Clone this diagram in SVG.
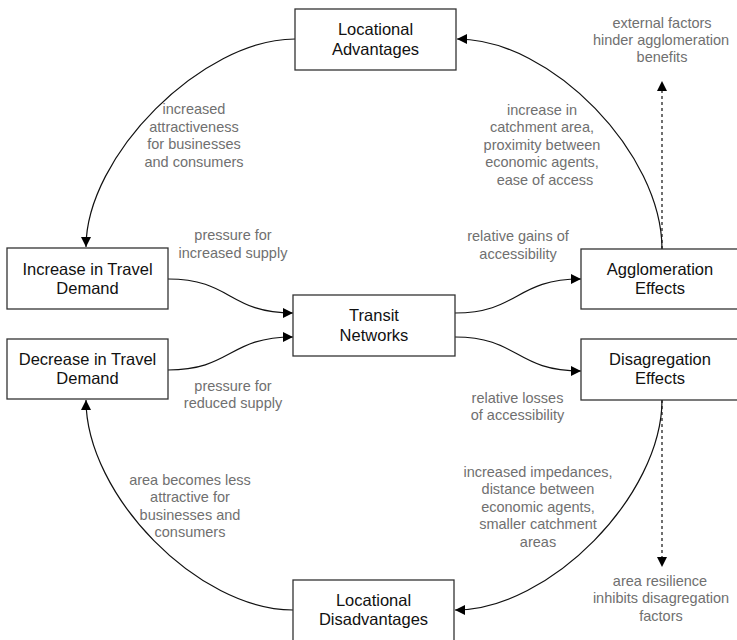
<svg xmlns="http://www.w3.org/2000/svg" width="737" height="640" viewBox="0 0 737 640">
  <style>
    .box { fill: #ffffff; stroke: #333333; stroke-width: 1.3; }
    .bt { font-family: "Liberation Sans", Arial, sans-serif; font-size: 16.5px; fill: #111111; text-anchor: middle; }
    .lb { font-family: "Liberation Sans", Arial, sans-serif; font-size: 14.5px; fill: #707070; text-anchor: middle; }
    .edge { fill: none; stroke: #111111; stroke-width: 1.2; }
    .dash { stroke-dasharray: 3 3; }
  </style>
  <defs>
    <marker id="arrow" markerUnits="userSpaceOnUse" viewBox="0 0 10 10" refX="10" refY="5" markerWidth="10" markerHeight="10" orient="auto">
      <path d="M0,0 L10,5 L0,10 z" fill="#000000"/>
    </marker>
  </defs>
  <rect width="737" height="640" fill="#ffffff"/>

  <g id="connectors">
    <path class="edge" d="M295,39 C202,39 86,156 86,247" marker-end="url(#arrow)"/>
    <path class="edge" d="M662,249 C662,154 552,39 457,39" marker-end="url(#arrow)"/>
    <path class="edge" d="M662,400 C662,495 550,610 455,610" marker-end="url(#arrow)"/>
    <path class="edge" d="M293,610 C198,610 86,495 86,400" marker-end="url(#arrow)"/>
    <path class="edge" d="M168,279 C232,279 228,313 293,313" marker-end="url(#arrow)"/>
    <path class="edge" d="M168,370 C232,370 228,337 293,337" marker-end="url(#arrow)"/>
    <path class="edge" d="M455,313 C519,313 515,279 581,279" marker-end="url(#arrow)"/>
    <path class="edge" d="M455,337 C519,337 515,371 581,371" marker-end="url(#arrow)"/>
    <path class="edge dash" d="M662,249 L662,81" marker-end="url(#arrow)"/>
    <path class="edge dash" d="M662,400 L662,567" marker-end="url(#arrow)"/>
  </g>

  <g id="node-locational-advantages">
    <rect class="box" x="295" y="9" width="161" height="61"/>
    <text class="bt" x="375.5" y="35">Locational</text>
    <text class="bt" x="375.5" y="54.5">Advantages</text>
  </g>
  <g id="node-increase-demand">
    <rect class="box" x="7" y="248" width="161" height="61"/>
    <text class="bt" x="87.5" y="275">Increase in Travel</text>
    <text class="bt" x="87.5" y="294">Demand</text>
  </g>
  <g id="node-decrease-demand">
    <rect class="box" x="7" y="339" width="161" height="60"/>
    <text class="bt" x="87.5" y="365">Decrease in Travel</text>
    <text class="bt" x="87.5" y="384">Demand</text>
  </g>
  <g id="node-transit-networks">
    <rect class="box" x="293" y="295" width="162" height="61"/>
    <text class="bt" x="374" y="320.5">Transit</text>
    <text class="bt" x="374" y="340.5">Networks</text>
  </g>
  <g id="node-agglomeration">
    <rect class="box" x="581" y="249" width="161" height="60"/>
    <text class="bt" x="660" y="274.5">Agglomeration</text>
    <text class="bt" x="660" y="294">Effects</text>
  </g>
  <g id="node-disagregation">
    <rect class="box" x="581" y="339" width="161" height="61"/>
    <text class="bt" x="660" y="364.5">Disagregation</text>
    <text class="bt" x="660" y="384">Effects</text>
  </g>
  <g id="node-locational-disadvantages">
    <rect class="box" x="293" y="580" width="161" height="61"/>
    <text class="bt" x="373.5" y="605.5">Locational</text>
    <text class="bt" x="373.5" y="624.5">Disadvantages</text>
  </g>

  <g id="labels">
    <text class="lb" x="194" y="114">increased</text>
    <text class="lb" x="194" y="131.5">attractiveness</text>
    <text class="lb" x="194" y="149">for businesses</text>
    <text class="lb" x="194" y="166.5">and consumers</text>

    <text class="lb" x="233" y="240">pressure for</text>
    <text class="lb" x="233" y="257.5">increased supply</text>

    <text class="lb" x="233" y="390.5">pressure for</text>
    <text class="lb" x="233" y="408">reduced supply</text>

    <text class="lb" x="190" y="484.5">area becomes less</text>
    <text class="lb" x="190" y="502">attractive for</text>
    <text class="lb" x="190" y="519.5">businesses and</text>
    <text class="lb" x="190" y="537">consumers</text>

    <text class="lb" x="518" y="241">relative gains of</text>
    <text class="lb" x="518" y="258.5">accessibility</text>

    <text class="lb" x="542" y="114.5">increase in</text>
    <text class="lb" x="542" y="132">catchment area,</text>
    <text class="lb" x="542" y="149.5">proximity between</text>
    <text class="lb" x="542" y="167">economic agents,</text>
    <text class="lb" x="545" y="184.5">ease of access</text>

    <text class="lb" x="662" y="27.5">external factors</text>
    <text class="lb" x="661" y="44.5">hinder agglomeration</text>
    <text class="lb" x="662" y="62">benefits</text>

    <text class="lb" x="517.5" y="402.5">relative losses</text>
    <text class="lb" x="517.5" y="420">of accessibility</text>

    <text class="lb" x="538" y="476.5">increased impedances,</text>
    <text class="lb" x="538" y="494">distance between</text>
    <text class="lb" x="538" y="511.5">economic agents,</text>
    <text class="lb" x="538" y="529">smaller catchment</text>
    <text class="lb" x="538" y="546.5">areas</text>

    <text class="lb" x="660" y="585.5">area resilience</text>
    <text class="lb" x="661" y="603">inhibits disagregation</text>
    <text class="lb" x="661" y="620.5">factors</text>
  </g>
</svg>
